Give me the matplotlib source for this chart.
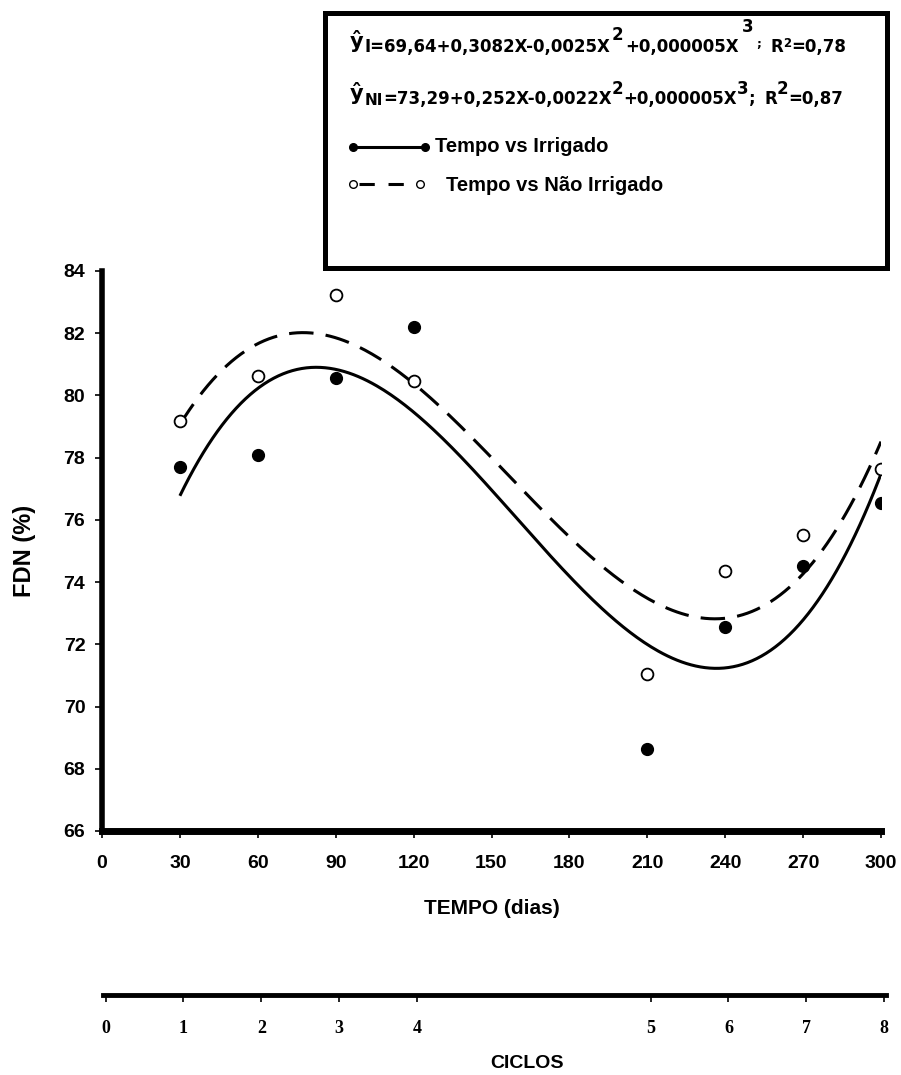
import numpy as np
import matplotlib
matplotlib.use("Agg")
import matplotlib.pyplot as plt
from matplotlib.lines import Line2D
from matplotlib.patches import Rectangle

# dados
dias = [30, 60, 90, 120, 210, 240, 270, 300]
irrigado = [77.7, 78.1, 80.55, 82.2, 68.62, 72.57, 74.53, 76.53]
nao_irrigado = [79.19, 80.62, 83.24, 80.48, 71.04, 74.36, 75.5, 77.64]

xticks = [0, 30, 60, 90, 120, 150, 180, 210, 240, 270, 300]
yticks = [66, 68, 70, 72, 74, 76, 78, 80, 82, 84]
ciclos_pos = [0, 30, 60, 90, 120, 210, 240, 270, 300]
ciclos_lab = ["0", "1", "2", "3", "4", "5", "6", "7", "8"]

W, H = 901, 1075
plt.rcParams['font.family'] = ['Liberation Sans', 'DejaVu Sans']
plt.rcParams['font.weight'] = 'bold'

fig = plt.figure(figsize=(W / 100, H / 100), dpi=100)


def px(x, y):
    return x / W, 1 - y / H


ax = fig.add_axes([102 / W, (H - 831) / H, 779 / W, 560 / H])
ax.set_xlim(0, 300)
ax.set_ylim(66, 84)

# curvas de regressao cubica ajustadas aos pontos
xs = np.linspace(30, 300, 300)
ci = np.polyfit(dias, irrigado, 3)
cn = np.polyfit(dias, nao_irrigado, 3)
ax.plot(xs, np.polyval(ci, xs), color='black', lw=2.2, solid_capstyle='butt')
ax.plot(xs, np.polyval(cn, xs), color='black', lw=2.2, linestyle=(0, (8, 4)))

ax.plot(dias, irrigado, 'o', color='black', ms=8.5, zorder=5)
ax.plot(dias, nao_irrigado, 'o', mfc='white', mec='black', mew=1.3, ms=8.5, zorder=5)

for s in ['top', 'right']:
    ax.spines[s].set_visible(False)
ax.spines['left'].set_linewidth(4)
ax.spines['bottom'].set_linewidth(5)
ax.set_xticks(xticks)
ax.set_yticks(yticks)
ax.tick_params(axis='y', direction='out', length=5, width=1.2, pad=7, labelsize=14)
ax.tick_params(axis='x', direction='out', length=5, width=1.2, pad=12, labelsize=14)
for lab in ax.get_xticklabels() + ax.get_yticklabels():
    lab.set_fontweight('bold')

fig.text(*px(24, 551), "FDN (%)", rotation=90, ha='center', va='center',
         fontsize=17, fontweight='bold')
fig.text(*px(492, 908), "TEMPO (dias)", ha='center', va='center',
         fontsize=15, fontweight='bold')

# eixo de ciclos
ax2 = fig.add_axes([103 / W, (H - 995) / H, 783 / W, 0.0001])
ax2.set_xlim(-1, 300.7)
ax2.set_yticks([])
for s in ['top', 'right', 'left']:
    ax2.spines[s].set_visible(False)
ax2.spines['bottom'].set_linewidth(3.5)
ax2.set_xticks(ciclos_pos)
ax2.set_xticklabels(ciclos_lab, family=['Liberation Serif'], fontweight='bold', fontsize=13)
ax2.tick_params(axis='x', direction='out', length=5, width=1.2, pad=13)
fig.text(*px(527, 1064), "CICLOS", ha='center', va='center',
         fontsize=14, fontweight='bold')

# caixa da legenda
fig.patches.append(Rectangle(px(325, 268), 562 / W, 255 / H, transform=fig.transFigure,
                             fill=False, lw=3.6, edgecolor='black'))

renderer = fig.canvas.get_renderer()
EQ = ['DejaVu Sans']


def run(x, parts):
    for s, size, yb, gap in parts:
        t = fig.text(*px(x, yb), s, fontsize=size, fontweight='bold', family=EQ,
                     ha='left', va='baseline')
        x = t.get_window_extent(renderer).x1 + gap
    return x


run(350, [("ŷ", 15, 48.5, 1), ("I=69,64+0,3082X-0,0025X", 12, 52, 1),
          ("2", 12, 40, 2), ("+0,000005X", 12, 52, 3), ("3", 12, 32, 3),
          (";", 8.5, 48, 9), ("R", 12, 52, 0), ("2", 8.5, 47, 0), ("=0,78", 12, 52, 0)])
run(350, [("ŷ", 15, 100, 1), ("NI", 11, 105, 0), ("=73,29+0,252X-0,0022X", 12, 104, 0),
          ("2", 12, 94, 0), ("+0,000005X", 12, 104, 0), ("3", 12, 94, 0),
          (";", 12, 104, 9), ("R", 12, 104, 0), ("2", 12, 94, 0), ("=0,87", 12, 104, 0)])

# simbolos da legenda
fig.lines.append(Line2D([353 / W, 425 / W], [1 - 147 / H] * 2, transform=fig.transFigure,
                        color='black', lw=2.2, marker='o', ms=5.5))
fig.lines.append(Line2D([359 / W, 414 / W], [1 - 184 / H] * 2, transform=fig.transFigure,
                        color='black', lw=2.2, linestyle=(0, (5, 4.5))))
fig.lines.append(Line2D([353 / W, 420 / W], [1 - 184 / H] * 2, transform=fig.transFigure,
                        color='black', lw=0, marker='o', ms=5.5, mfc='white', mew=1))
fig.text(*px(435, 152), "Tempo vs Irrigado", fontsize=14.5, fontweight='bold', va='baseline')
fig.text(*px(446, 191), "Tempo vs Não Irrigado", fontsize=14.5, fontweight='bold', va='baseline')

fig.savefig("out.png", dpi=100)
